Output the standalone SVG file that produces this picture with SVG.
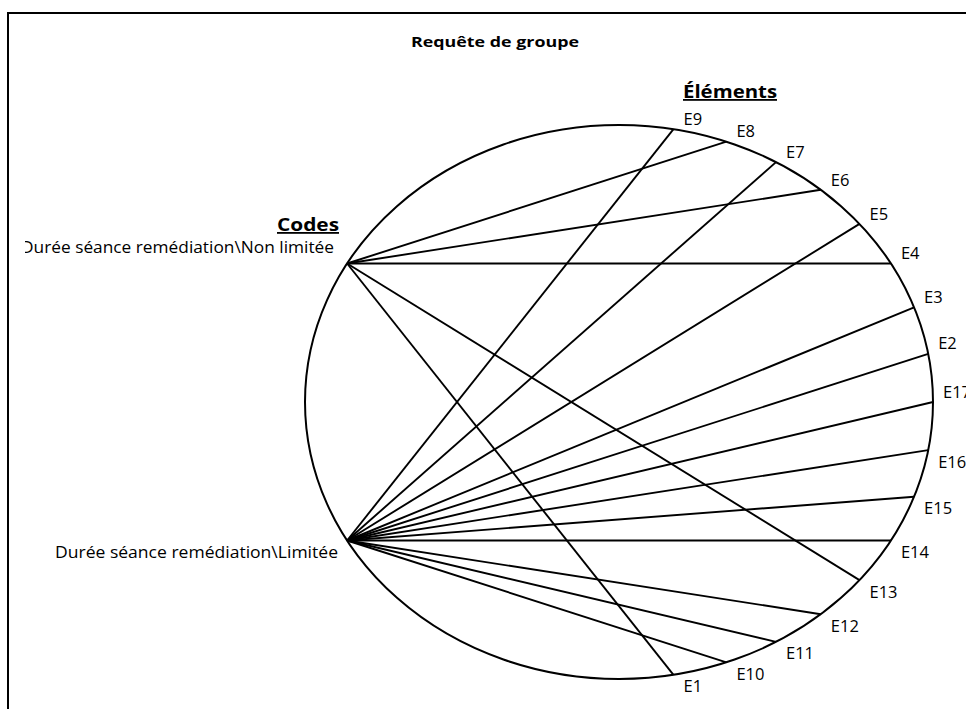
<svg xmlns="http://www.w3.org/2000/svg" width="966" height="709" viewBox="0 0 966 709">
<style>
  .frame{fill:none;stroke:#000;stroke-width:2}
  .ring{fill:none;stroke:#000;stroke-width:2}
  .edge{stroke:#000;stroke-width:1.9;fill:none}
  .el{font-family:"Open Sans","Noto Sans",sans-serif;font-size:16.5px;fill:#000}
  .code{font-family:"Open Sans","Noto Sans",sans-serif;font-size:16.5px;fill:#000}
  .head{font-family:"Open Sans","Noto Sans",sans-serif;font-weight:bold;font-size:18px;fill:#000;text-decoration:underline}
  .title{font-family:"Open Sans","Noto Sans",sans-serif;font-weight:bold;font-size:15px;fill:#000}
</style>
<defs>
  <clipPath id="clipN"><rect x="25" y="200" width="400" height="80"/></clipPath>
</defs>
<rect width="966" height="709" fill="#fff"/>
<path class="frame" d="M8,720 V13 H980"/>
<text class="title" x="495" y="47" text-anchor="middle" textLength="168" lengthAdjust="spacingAndGlyphs">Requête de groupe</text>
<text class="head" x="683" y="98" textLength="94" lengthAdjust="spacingAndGlyphs">Éléments</text>
<text class="head" x="277" y="231" textLength="62" lengthAdjust="spacingAndGlyphs">Codes</text>
<ellipse class="ring" cx="619" cy="402" rx="314" ry="277"/>
<g id="connectors">
  <line class="edge" x1="347.1" y1="263.5" x2="726.4" y2="141.7"/>
  <line class="edge" x1="347.1" y1="263.5" x2="820.8" y2="189.8"/>
  <line class="edge" x1="347.1" y1="263.5" x2="890.9" y2="263.5"/>
  <line class="edge" x1="347.1" y1="263.5" x2="859.5" y2="580.1"/>
  <line class="edge" x1="347.1" y1="263.5" x2="673.5" y2="674.8"/>
  <line class="edge" x1="347.1" y1="540.5" x2="673.5" y2="129.2"/>
  <line class="edge" x1="347.1" y1="540.5" x2="776" y2="162.1"/>
  <line class="edge" x1="347.1" y1="540.5" x2="859.5" y2="223.9"/>
  <line class="edge" x1="347.1" y1="540.5" x2="914.1" y2="307.3"/>
  <line class="edge" x1="347.1" y1="540.5" x2="928.2" y2="353.9"/>
  <line class="edge" x1="347.1" y1="540.5" x2="933" y2="402"/>
  <line class="edge" x1="347.1" y1="540.5" x2="928.2" y2="450.1"/>
  <line class="edge" x1="347.1" y1="540.5" x2="914.1" y2="496.7"/>
  <line class="edge" x1="347.1" y1="540.5" x2="890.9" y2="540.5"/>
  <line class="edge" x1="347.1" y1="540.5" x2="820.8" y2="614.2"/>
  <line class="edge" x1="347.1" y1="540.5" x2="776" y2="641.9"/>
  <line class="edge" x1="347.1" y1="540.5" x2="726.4" y2="662.3"/>
</g>
<g id="code-non-limitee">
  <text class="code" x="334" y="253" text-anchor="end" textLength="313" lengthAdjust="spacingAndGlyphs" clip-path="url(#clipN)">Durée séance remédiation\Non limitée</text>
</g>
<g id="code-limitee">
  <text class="code" x="338" y="558" text-anchor="end" textLength="283" lengthAdjust="spacingAndGlyphs">Durée séance remédiation\Limitée</text>
</g>
<g id="E9"><text class="el" x="683.5" y="124.5">E9</text></g>
<g id="E8"><text class="el" x="736.4" y="137">E8</text></g>
<g id="E7"><text class="el" x="786" y="158">E7</text></g>
<g id="E6"><text class="el" x="830.8" y="186">E6</text></g>
<g id="E5"><text class="el" x="869.5" y="220">E5</text></g>
<g id="E4"><text class="el" x="900.9" y="258.5">E4</text></g>
<g id="E3"><text class="el" x="924.1" y="302.5">E3</text></g>
<g id="E2"><text class="el" x="938.2" y="349">E2</text></g>
<g id="E17"><text class="el" x="943" y="397.5">E17</text></g>
<g id="E16"><text class="el" x="938.2" y="467.5">E16</text></g>
<g id="E15"><text class="el" x="924.1" y="513.5">E15</text></g>
<g id="E14"><text class="el" x="900.9" y="557.5">E14</text></g>
<g id="E13"><text class="el" x="869.5" y="597.5">E13</text></g>
<g id="E12"><text class="el" x="830.8" y="631.5">E12</text></g>
<g id="E11"><text class="el" x="786" y="659">E11</text></g>
<g id="E10"><text class="el" x="736.4" y="679.5">E10</text></g>
<g id="E1"><text class="el" x="683.5" y="692">E1</text></g>
</svg>
